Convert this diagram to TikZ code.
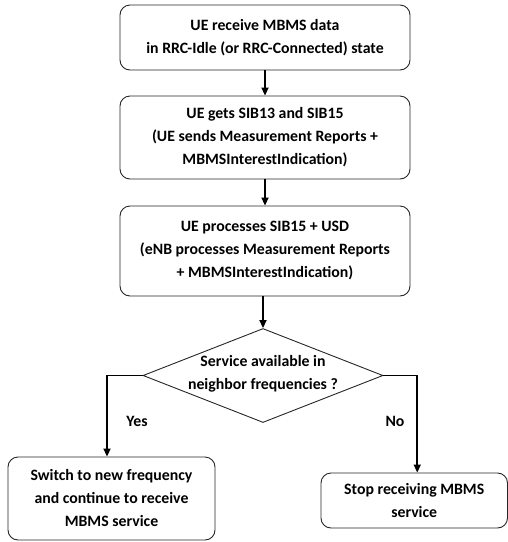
\documentclass[tikz,border=0pt]{standalone}
\usepackage{fontspec}
\setmainfont{Carlito}
\usetikzlibrary{arrows.meta,shapes.geometric}
\begin{document}
\begin{tikzpicture}[x=1pt,y=-1pt,
  box/.style={draw=black!85,line width=0.9pt,rounded corners=10pt,align=center,
    font=\fontsize{15.8}{23}\selectfont\bfseries,inner sep=0pt},
  lbl/.style={font=\fontsize{15.8}{23}\selectfont\bfseries,align=center,inner sep=0pt},
  arr/.style={line width=1.8pt,-{Triangle[length=8pt,width=7pt]}}]
\useasboundingbox (0,0) rectangle (508,542);
\node[box,minimum width=290pt,minimum height=65pt] (b1) at (265,37.5)
  {UE receive MBMS data\\in RRC-Idle (or RRC-Connected) state};
\node[box,minimum width=290pt,minimum height=83pt] (b2) at (265,137.5)
  {UE gets SIB13 and SIB15\\(UE sends Measurement Reports +\\MBMSInterestIndication)};
\node[box,minimum width=290pt,minimum height=90pt] (b3) at (265,251)
  {UE processes SIB15 + USD\\(eNB processes Measurement Reports\\+ MBMSInterestIndication)};
\node[diamond,draw=black!85,line width=0.9pt,inner sep=0pt,minimum width=240pt,minimum height=94pt] (dec) at (263,375.5) {};
\node[lbl] (dect) at (263,373.5) {Service available in\\neighbor frequencies ?};
\node[box,minimum width=207pt,minimum height=83pt] (yes) at (111.5,498.5)
  {Switch to new frequency\\and continue to receive\\MBMS service};
\node[box,minimum width=186.5pt,minimum height=55pt] (no) at (414.25,500.5)
  {Stop receiving MBMS\\service};
\node[lbl] (ylab) at (137,421) {Yes};
\node[lbl] (nlab) at (395,421) {No};
\draw[arr] (b1.south) -- (b2.north);
\draw[arr] (b2.south) -- (b3.north);
\draw[arr] ([xshift=-2pt]b3.south) -- (dec.north);
\draw[arr] (dec.west) -| ([xshift=-4.5pt]yes.north);
\draw[arr] (dec.east) -| ([xshift=3pt]no.north);
\end{tikzpicture}
\end{document}
